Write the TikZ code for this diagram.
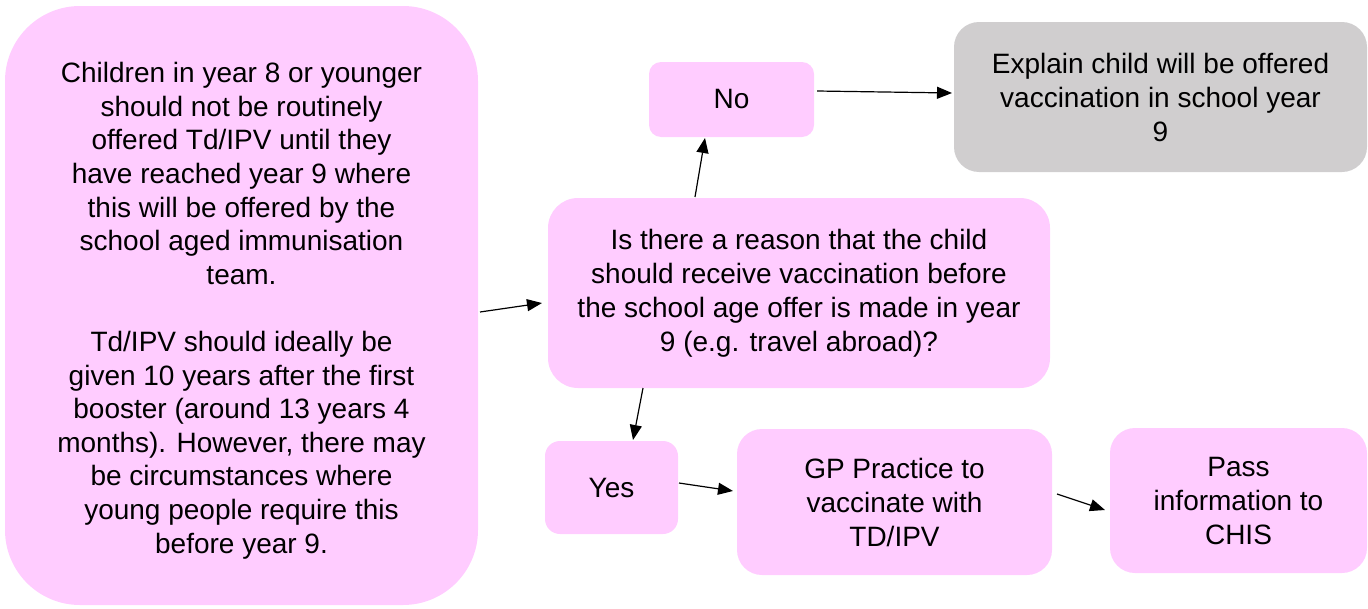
\documentclass[tikz,border=0pt]{standalone}
\usepackage{fontspec}
\setmainfont{Liberation Sans}
\usetikzlibrary{arrows.meta}
\definecolor{boxpink}{HTML}{FFCCFF}
\definecolor{boxgrey}{HTML}{D0CECF}
\tikzset{
  box/.style={rectangle, fill=boxpink, draw=none, inner sep=0pt, outer sep=0pt, align=center,
    font=\fontsize{28}{34}\selectfont, text=black},
  greybox/.style={box, fill=boxgrey},
  conn/.style={line width=1.2pt, -{Triangle[length=15pt,width=12pt]}}
}
\begin{document}
\begin{tikzpicture}[x=1pt,y=1pt]
\useasboundingbox (0,0) rectangle (1368,-608);
\node[box, font=\fontsize{28}{33.6}\selectfont, text height=501pt, rounded corners=75pt, minimum width=473pt, minimum height=599pt] (left) at (241.5,-305.5)
 {Children in year 8 or younger\\should not be routinely\\offered Td/IPV until they\\have reached year 9 where\\this will be offered by the\\school aged immunisation\\team.\\[33.6pt]Td/IPV should ideally be\\given 10 years after the first\\booster (around 13 years 4\\months). However, there may\\be circumstances where\\young people require this\\before year 9.};
\node[box, rounded corners=30pt, minimum width=502pt, minimum height=190pt] (center) at (799,-293)
 {Is there a reason that the child\\should receive vaccination before\\the school age offer is made in year\\9 (e.g. travel abroad)?};
\node[box, rounded corners=12pt, minimum width=165pt, minimum height=75pt] (no) at (731.5,-99.5) {No};
\node[greybox, rounded corners=25pt, minimum width=413pt, minimum height=150pt] (grey) at (1160.5,-97)
 {Explain child will be offered\\vaccination in school year\\9};
\node[box, rounded corners=15pt, minimum width=133pt, minimum height=93pt] (yes) at (611.5,-487.5) {Yes};
\node[box, rounded corners=25pt, minimum width=315pt, minimum height=146pt] (gp) at (894.5,-502)
 {GP Practice to\\vaccinate with\\TD/IPV};
\node[box, rounded corners=25pt, minimum width=257pt, minimum height=145pt] (chis) at (1238.5,-500.5)
 {Pass\\information to\\CHIS};
\draw[conn] ([xshift=2pt,yshift=-6.5pt]left.east) -- ([xshift=-6pt,yshift=-10pt]center.west);
\draw[conn] ([xshift=-104pt,yshift=1pt]center.north) -- ([xshift=-26.5pt,yshift=-1pt]no.south);
\draw[conn] ([xshift=3pt,yshift=8.5pt]no.east) -- ([xshift=-2pt,yshift=4pt]grey.west);
\draw[conn] ([xshift=-156pt]center.south) -- ([xshift=21.5pt,yshift=1pt]yes.north);
\draw[conn] ([xshift=1pt,yshift=4.5pt]yes.east) -- ([xshift=-4pt,yshift=11pt]gp.west);
\draw[conn] ([xshift=5pt,yshift=8pt]gp.east) -- ([xshift=-5pt,yshift=-9.5pt]chis.west);
\end{tikzpicture}
\end{document}
